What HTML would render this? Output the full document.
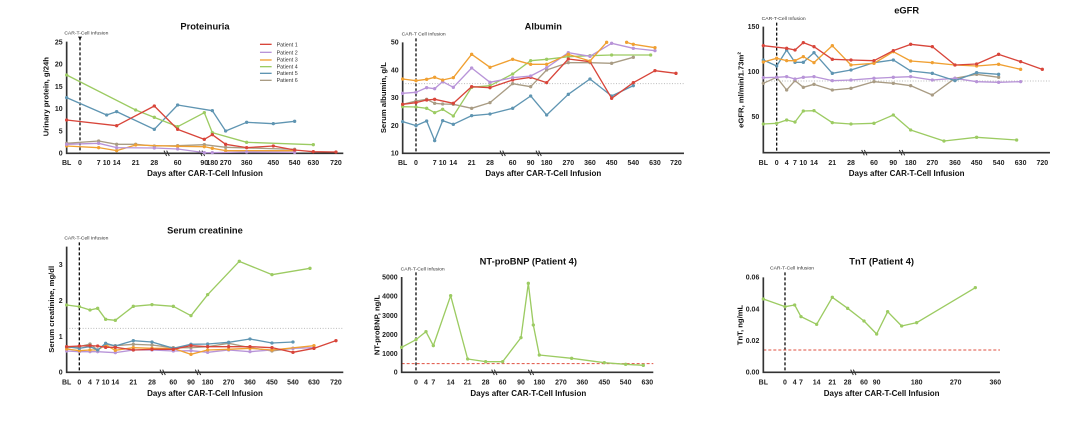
<!DOCTYPE html>
<html><head><meta charset="utf-8"><style>
html,body{margin:0;padding:0;background:#fff;}
svg{display:block;font-family:"Liberation Sans",Arial,sans-serif;}
.ax{stroke:#333;stroke-width:5;fill:none}
.tk{font-size:21px;font-weight:bold;fill:#222;text-anchor:middle}
.yt{font-size:21px;font-weight:bold;fill:#222;text-anchor:end}
.ti{font-size:28px;font-weight:bold;fill:#111;text-anchor:middle}
.xl{font-size:24px;font-weight:bold;fill:#111;text-anchor:middle}
.yl{font-size:23px;font-weight:bold;fill:#111;text-anchor:middle}
.ct{font-size:15px;fill:#333}
.inf{stroke:#111;stroke-width:4;stroke-dasharray:9 6;fill:none}
.ref{stroke:#bbb;stroke-width:3;stroke-dasharray:3 5;fill:none}
.rd{stroke:#e05040;stroke-width:3;stroke-dasharray:9 6;fill:none}
.brk{stroke:#333;stroke-width:3;fill:none}
polyline{fill:none;stroke-width:4;stroke-linejoin:round}
.r{stroke:#d8453a;marker-start:url(#mr);marker-mid:url(#mr);marker-end:url(#mr)}
.p{stroke:#b894d8;marker-start:url(#mp);marker-mid:url(#mp);marker-end:url(#mp)}
.o{stroke:#f0a032;marker-start:url(#mo);marker-mid:url(#mo);marker-end:url(#mo)}
.g{stroke:#9ccb62;marker-start:url(#mg);marker-mid:url(#mg);marker-end:url(#mg)}
.b{stroke:#5f95b2;marker-start:url(#mb);marker-mid:url(#mb);marker-end:url(#mb)}
.t{stroke:#a99c84;marker-start:url(#mt);marker-mid:url(#mt);marker-end:url(#mt)}
.lg{font-size:16px;fill:#333}
</style></head><body>
<svg width="1080" height="429" viewBox="0 0 1080 429" xmlns="http://www.w3.org/2000/svg">
<defs>
<marker id="mr" markerUnits="userSpaceOnUse" markerWidth="12" markerHeight="12" refX="6" refY="6"><circle cx="6" cy="6" r="5" fill="#d8453a"/></marker>
<marker id="mp" markerUnits="userSpaceOnUse" markerWidth="12" markerHeight="12" refX="6" refY="6"><circle cx="6" cy="6" r="5" fill="#b894d8"/></marker>
<marker id="mo" markerUnits="userSpaceOnUse" markerWidth="12" markerHeight="12" refX="6" refY="6"><circle cx="6" cy="6" r="5" fill="#f0a032"/></marker>
<marker id="mg" markerUnits="userSpaceOnUse" markerWidth="12" markerHeight="12" refX="6" refY="6"><circle cx="6" cy="6" r="5" fill="#9ccb62"/></marker>
<marker id="mb" markerUnits="userSpaceOnUse" markerWidth="12" markerHeight="12" refX="6" refY="6"><circle cx="6" cy="6" r="5" fill="#5f95b2"/></marker>
<marker id="mt" markerUnits="userSpaceOnUse" markerWidth="12" markerHeight="12" refX="6" refY="6"><circle cx="6" cy="6" r="5" fill="#a99c84"/></marker>
</defs>

<!-- Panel 1 Proteinuria -->
<g transform="translate(0,0) scale(0.3333)">
<text class="ti" x="615" y="88">Proteinuria</text>
<text class="ct" x="193" y="104">CAR-T-Cell Infusion</text>
<line class="inf" x1="240" y1="112" x2="240" y2="460"/>
<path d="M234,110 L246,110 L240,120Z" fill="#111"/>
<path class="ax" d="M200,125 V460 H1030"/>
<path class="brk" d="M492,452 l8,16 M500,452 l8,16 M598,452 l8,16 M606,452 l8,16"/>
<g class="yt"><text x="188" y="133">25</text><text x="188" y="200">20</text><text x="188" y="267">15</text><text x="188" y="333">10</text><text x="188" y="400">5</text><text x="188" y="467">0</text></g>
<g class="tk"><text x="200" y="495">BL</text><text x="240" y="495">0</text><text x="296" y="495">7</text><text x="320" y="495">10</text><text x="350" y="495">14</text><text x="407" y="495">21</text><text x="463" y="495">28</text><text x="533" y="495">60</text><text x="613" y="495">90</text><text x="637" y="495">180</text><text x="677" y="495">270</text><text x="740" y="495">360</text><text x="820" y="495">450</text><text x="884" y="495">540</text><text x="940" y="495">630</text><text x="1008" y="495">720</text></g>
<text class="xl" x="615" y="528">Days after CAR-T-Cell Infusion</text>
<text class="yl" transform="translate(145,290) rotate(-90)">Urinary protein, g/24h</text>
<polyline class="t" points="200,430 296,423 350,433 407,433 463,438 533,437 613,434 677,442 884,448"/>
<polyline class="o" points="200,438 296,443 350,452 407,435 533,439 613,440 637,445 677,452 884,452"/>
<polyline class="p" points="200,433 296,430 350,443 463,444 533,447 613,458 637,458 740,456 884,457"/>
<polyline class="b" points="200,293 320,345 350,335 463,388 533,315 637,332 677,393 740,367 820,371 884,364"/>
<polyline class="g" points="200,225 407,330 463,352 533,380 613,338 637,398 740,427 940,434"/>
<polyline class="r" points="200,360 350,377 463,318 533,388 613,418 637,404 677,433 740,443 820,438 884,450 940,455 1008,456"/>
<g stroke-width="4"><line x1="780" y1="133" x2="815" y2="133" stroke="#d8453a"/><line x1="780" y1="157" x2="815" y2="157" stroke="#b894d8"/><line x1="780" y1="180" x2="815" y2="180" stroke="#f0a032"/><line x1="780" y1="200" x2="815" y2="200" stroke="#9ccb62"/><line x1="780" y1="220" x2="815" y2="220" stroke="#5f95b2"/><line x1="780" y1="241" x2="815" y2="241" stroke="#a99c84"/></g>
<g class="lg"><text x="830" y="139">Patient 1</text><text x="830" y="163">Patient 2</text><text x="830" y="185">Patient 3</text><text x="830" y="205">Patient 4</text><text x="830" y="225">Patient 5</text><text x="830" y="246">Patient 6</text></g>
</g>

<!-- Panel 2 Albumin -->
<g transform="translate(360,0) scale(0.3333)">
<text class="ti" x="550" y="88">Albumin</text>
<text class="ct" x="125" y="106">CAR-T Cell Infusion</text>
<line class="inf" x1="168" y1="115" x2="168" y2="460"/>
<path class="ref" d="M128,251 H972"/>
<path class="ax" d="M128,127 V460 H972"/>
<path class="brk" d="M420,452 l8,16 M428,452 l8,16 M528,452 l8,16 M536,452 l8,16"/>
<g class="yt"><text x="116" y="134">50</text><text x="116" y="217">40</text><text x="116" y="300">30</text><text x="116" y="384">20</text><text x="116" y="467">10</text></g>
<g class="tk"><text x="128" y="495">BL</text><text x="168" y="495">0</text><text x="224" y="495">7</text><text x="248" y="495">10</text><text x="280" y="495">14</text><text x="335" y="495">21</text><text x="390" y="495">28</text><text x="458" y="495">60</text><text x="512" y="495">90</text><text x="560" y="495">180</text><text x="625" y="495">270</text><text x="690" y="495">360</text><text x="755" y="495">450</text><text x="820" y="495">540</text><text x="885" y="495">630</text><text x="948" y="495">720</text></g>
<text class="xl" x="550" y="528">Days after CAR-T-Cell Infusion</text>
<text class="yl" transform="translate(78,293) rotate(-90)">Serum albumin, g/L</text>
<polyline class="b" points="128,365 168,377 200,363 224,422 248,362 280,373 335,347 390,342 458,325 512,288 560,345 625,283 690,237 755,288 820,257"/>
<polyline class="t" points="128,313 168,303 200,298 224,310 248,312 280,313 335,325 390,308 458,251 512,260 560,210 625,188 690,188 755,190 820,172"/>
<polyline class="g" points="128,320 168,321 200,325 224,338 248,328 280,348 335,262 390,257 458,222 512,182 560,178 625,170 690,167 755,165 872,165"/>
<polyline class="r" points="128,313 168,308 200,300 224,298 280,310 335,260 390,263 458,240 512,232 560,248 625,177 690,185 755,295 820,248 885,212 948,220"/>
<polyline class="p" points="128,280 168,277 200,263 224,266 248,245 280,262 335,204 390,247 458,233 512,228 560,203 625,158 690,169 755,130 820,145 885,152"/>
<polyline class="o" points="128,237 168,242 200,238 224,232 248,240 280,233 335,163 390,202 458,178 512,193 560,193 625,163 690,183 740,127"/>
<polyline class="o" points="800,127 820,133 885,143"/>
</g>

<!-- Panel 3 eGFR -->
<g transform="translate(720,0) scale(0.3333)">
<text class="ti" x="560" y="40">eGFR</text>
<text class="ct" x="125" y="60">CAR-T-Cell Infusion</text>
<line class="inf" x1="170" y1="68" x2="170" y2="458"/>
<path class="ref" d="M130,243 H990"/>
<path class="ax" d="M130,80 V458 H990"/>
<path class="brk" d="M425,450 l8,16 M433,450 l8,16 M538,450 l8,16 M546,450 l8,16"/>
<g class="yt"><text x="118" y="87">150</text><text x="118" y="222">100</text><text x="118" y="357">50</text></g>
<g class="tk"><text x="130" y="495">BL</text><text x="170" y="495">0</text><text x="200" y="495">4</text><text x="225" y="495">7</text><text x="250" y="495">10</text><text x="282" y="495">14</text><text x="337" y="495">21</text><text x="393" y="495">28</text><text x="462" y="495">60</text><text x="520" y="495">90</text><text x="572" y="495">180</text><text x="637" y="495">270</text><text x="705" y="495">360</text><text x="770" y="495">450</text><text x="836" y="495">540</text><text x="902" y="495">630</text><text x="967" y="495">720</text></g>
<text class="xl" x="560" y="528">Days after CAR-T-Cell Infusion</text>
<text class="yl" transform="translate(70,270) rotate(-90)">eGFR,   ml/min/1.73m²</text>
<polyline class="g" points="130,372 170,370 200,360 225,366 250,333 282,332 337,368 393,372 462,370 520,345 572,390 672,423 770,412 890,420"/>
<polyline class="t" points="130,250 170,232 200,270 225,242 250,262 282,253 337,270 393,265 462,245 520,250 572,257 637,285 705,235 770,223 836,232"/>
<polyline class="p" points="130,233 170,232 200,230 225,237 250,232 282,230 337,242 393,240 462,235 520,232 572,230 637,240 705,235 770,245 836,247 902,245"/>
<polyline class="b" points="130,180 170,198 200,150 225,187 250,187 282,158 337,220 393,210 462,188 520,180 572,213 637,220 705,242 770,218 836,223"/>
<polyline class="o" points="130,186 170,175 200,182 225,182 250,170 282,188 337,137 393,195 462,190 520,155 572,183 637,188 705,195 770,198 836,193 902,208"/>
<polyline class="r" points="130,137 200,145 225,150 250,128 282,140 337,178 393,180 462,182 520,152 572,133 637,140 705,195 770,192 836,163 902,185 967,208"/>
</g>

<!-- Panel 4 Serum creatinine -->
<g transform="translate(0,215) scale(0.3333)">
<text class="ti" x="615" y="55">Serum creatinine</text>
<text class="ct" x="193" y="74">CAR-T-Cell Infusion</text>
<line class="inf" x1="238" y1="82" x2="238" y2="472"/>
<path class="ref" d="M200,340 H1030"/>
<path class="ax" d="M200,95 V472 H1030"/>
<path class="brk" d="M480,464 l8,16 M488,464 l8,16 M586,464 l8,16 M594,464 l8,16"/>
<g class="yt"><text x="188" y="156">3</text><text x="188" y="264">2</text><text x="188" y="372">1</text><text x="188" y="479">0</text></g>
<g class="tk"><text x="200" y="508">BL</text><text x="238" y="508">0</text><text x="270" y="508">4</text><text x="293" y="508">7</text><text x="317" y="508">10</text><text x="346" y="508">14</text><text x="400" y="508">21</text><text x="456" y="508">28</text><text x="520" y="508">60</text><text x="573" y="508">90</text><text x="623" y="508">180</text><text x="686" y="508">270</text><text x="750" y="508">360</text><text x="816" y="508">450</text><text x="879" y="508">540</text><text x="942" y="508">630</text><text x="1008" y="508">720</text></g>
<text class="xl" x="615" y="543">Days after CAR-T-Cell Infusion</text>
<text class="yl" transform="translate(162,283) rotate(-90)">Serum creatinine, mg/dl</text>
<polyline class="t" points="200,398 238,395 270,387 293,405 317,388 346,392 400,388 456,390 520,398 573,398 623,395 686,385 750,398 816,408 879,400"/>
<polyline class="p" points="200,408 238,410 270,410 293,410 346,413 400,405 456,405 520,408 573,407 623,412 686,405 750,410 816,405 879,400 942,398"/>
<polyline class="o" points="200,402 238,407 270,405 293,405 317,390 346,406 400,398 456,400 520,400 573,418 623,405 686,403 750,400 816,405 942,392"/>
<polyline class="b" points="200,395 238,400 270,395 293,405 317,385 346,393 400,377 456,381 520,400 573,388 623,387 686,382 750,372 816,384 879,381"/>
<polyline class="r" points="200,395 238,393 270,392 293,393 317,397 346,397 400,405 456,403 520,403 573,392 623,395 686,395 750,395 816,398 879,412 942,400 1008,377"/>
<polyline class="g" points="200,270 238,275 270,285 293,280 317,313 346,316 400,274 456,269 520,274 573,302 623,239 718,139 816,179 930,160"/>
</g>

<!-- Panel 5 NT-proBNP -->
<g transform="translate(360,215) scale(0.3333)">
<text class="ti" x="505" y="148">NT-proBNP (Patient 4)</text>
<text class="ct" x="122" y="166">CAR-T-Cell Infusion</text>
<line class="inf" x1="168" y1="172" x2="168" y2="472"/>
<path class="rd" d="M125,446 H880"/>
<path class="ax" d="M125,186 V472 H880"/>
<path class="brk" d="M395,464 l8,16 M403,464 l8,16 M505,464 l8,16 M513,464 l8,16"/>
<g class="yt"><text x="113" y="193">5000</text><text x="113" y="251">4000</text><text x="113" y="309">3000</text><text x="113" y="366">2000</text><text x="113" y="423">1000</text><text x="113" y="479">0</text></g>
<g class="tk"><text x="168" y="508">0</text><text x="198" y="508">4</text><text x="220" y="508">7</text><text x="272" y="508">14</text><text x="323" y="508">21</text><text x="377" y="508">28</text><text x="428" y="508">60</text><text x="483" y="508">90</text><text x="538" y="508">180</text><text x="603" y="508">270</text><text x="667" y="508">360</text><text x="733" y="508">450</text><text x="797" y="508">540</text><text x="862" y="508">630</text></g>
<text class="xl" x="505" y="543">Days after CAR-T-Cell Infusion</text>
<text class="yl" transform="translate(58,330) rotate(-90)">NT-proBNP, ng/L</text>
<polyline class="g" points="125,397 168,374 198,350 220,392 272,242 323,432 377,440 428,440 483,368 505,205 520,330 538,420 635,430 733,443 797,448 850,451"/>
</g>

<!-- Panel 6 TnT -->
<g transform="translate(720,215) scale(0.3333)">
<text class="ti" x="485" y="148">TnT (Patient 4)</text>
<text class="ct" x="150" y="164">CAR-T-Cell Infusion</text>
<line class="inf" x1="195" y1="172" x2="195" y2="472"/>
<path class="rd" d="M130,405 H840"/>
<path class="ax" d="M130,187 V472 H840"/>
<path class="brk" d="M392,464 l8,16 M400,464 l8,16"/>
<g class="yt"><text x="118" y="194">0.06</text><text x="118" y="289">0.04</text><text x="118" y="384">0.02</text><text x="118" y="479">0.00</text></g>
<g class="tk"><text x="130" y="508">BL</text><text x="195" y="508">0</text><text x="224" y="508">4</text><text x="243" y="508">7</text><text x="290" y="508">14</text><text x="337" y="508">21</text><text x="383" y="508">28</text><text x="432" y="508">60</text><text x="470" y="508">90</text><text x="590" y="508">180</text><text x="707" y="508">270</text><text x="826" y="508">360</text></g>
<text class="xl" x="485" y="543">Days after CAR-T-Cell Infusion</text>
<text class="yl" transform="translate(68,330) rotate(-90)">TnT, ng/mL</text>
<polyline class="g" points="130,252 195,275 224,270 243,305 290,328 337,247 383,280 432,318 470,357 503,290 545,333 590,323 766,218"/>
</g>
</svg>
</body></html>
